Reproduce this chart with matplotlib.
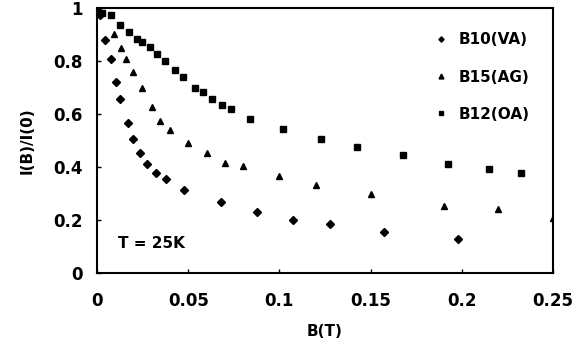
import numpy as np
import matplotlib.pyplot as plt

# Date
b10_x = [0, 0.0015, 0.0044, 0.0075, 0.0102, 0.0126, 0.0168, 0.0196, 0.0236, 0.0276,
         0.0325, 0.0378, 0.0477, 0.0678, 0.0875, 0.1075, 0.1276, 0.1575, 0.1977]
b10_y = [1.0, 0.975, 0.879, 0.806, 0.72, 0.655, 0.565, 0.506, 0.454, 0.411,
         0.377, 0.355, 0.313, 0.267, 0.229, 0.2, 0.184, 0.153, 0.13]

b15_x = [0, 0.002, 0.0093, 0.013, 0.0157, 0.0196, 0.0248, 0.03, 0.0347, 0.04,
         0.05, 0.0601, 0.07, 0.0799, 0.1, 0.12, 0.15, 0.19, 0.22, 0.25]
b15_y = [1.0, 0.985, 0.904, 0.85, 0.807, 0.76, 0.698, 0.625, 0.575, 0.54,
         0.489, 0.452, 0.416, 0.405, 0.367, 0.334, 0.3, 0.254, 0.24, 0.206]

b12_x = [0, 0.0026, 0.0075, 0.0126, 0.0175, 0.0218, 0.0248, 0.029, 0.0329, 0.0371,
         0.0426, 0.0473, 0.0535, 0.058, 0.0632, 0.0687, 0.0736, 0.0839, 0.1018,
         0.1226, 0.1427, 0.1676, 0.1923, 0.2151, 0.2323]
b12_y = [0.995, 0.98, 0.974, 0.936, 0.908, 0.882, 0.873, 0.854, 0.826, 0.8,
         0.766, 0.738, 0.7, 0.684, 0.658, 0.633, 0.619, 0.582, 0.543,
         0.504, 0.477, 0.444, 0.413, 0.394, 0.377]

x_ticks = [0, 0.05, 0.1, 0.15, 0.2, 0.25]
x_labels = ['0', '0.05', '0.1', '0.15', '0.2', '0.25']
y_ticks = [0, 0.2, 0.4, 0.6, 0.8, 1]
y_labels = ['0', '0.2', '0.4', '0.6', '0.8', '1']

plt.rcParams['font.family'] = 'DejaVu Sans'
plt.rcParams['font.weight'] = 'bold'

fig = plt.figure(figsize=(5.86, 3.51), dpi=100)
ax = fig.add_axes([0.1655, 0.2222, 0.7782, 0.7548])

ax.plot(b10_x, b10_y, 'D', color='k', markersize=3.8, linestyle='none', label='B10(VA)')
ax.plot(b15_x, b15_y, '^', color='k', markersize=5, linestyle='none', label='B15(AG)')
ax.plot(b12_x, b12_y, 's', color='k', markersize=4.6, linestyle='none', label='B12(OA)')

ax.set_xlim(0, 0.25)
ax.set_ylim(0, 1)
ax.set_xticks(x_ticks)
ax.set_xticklabels(x_labels)
ax.set_yticks(y_ticks)
ax.set_yticklabels(y_labels)
ax.tick_params(direction='in', length=3, width=1, labelsize=12)
ax.tick_params(axis='x', pad=14)
ax.tick_params(axis='y', pad=10)
for s in ax.spines.values():
    s.set_linewidth(1.5)

ax.set_xlabel('B(T)', fontsize=11, fontweight='bold', labelpad=10)
ax.set_ylabel('I(B)/I(0)', fontsize=11, fontweight='bold', labelpad=14)

ax.text(0.0115, 0.113, 'T = 25K', fontsize=11, fontweight='bold', va='center')

ax.legend(loc='upper right', bbox_to_anchor=(0.978, 0.96), frameon=False,
          markerscale=0.7, handletextpad=0.6, labelspacing=1.45, fontsize=11,
          handlelength=1.0)

plt.savefig('out.png', dpi=100)
